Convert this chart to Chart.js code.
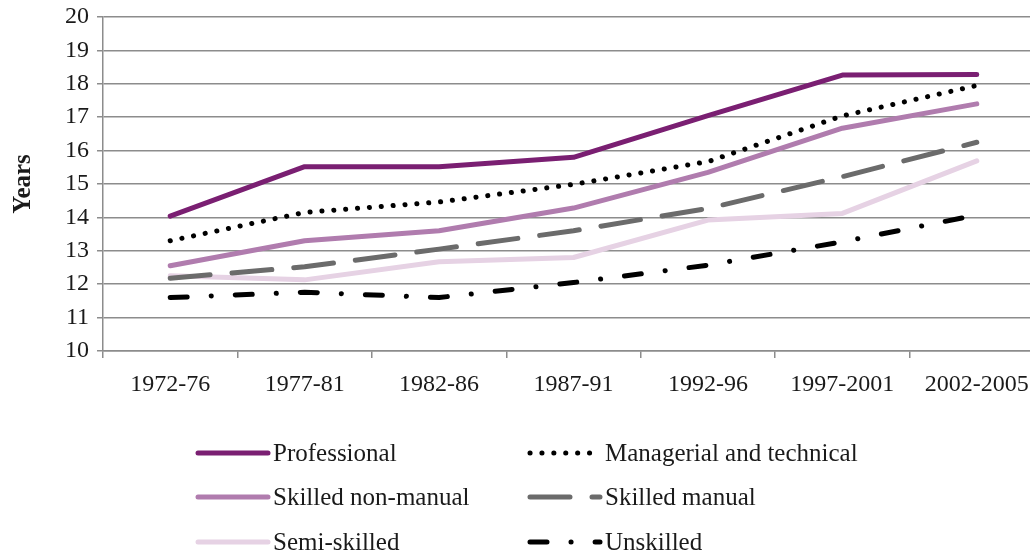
<!DOCTYPE html>
<html>
<head>
<meta charset="utf-8">
<script src="https://cdn.jsdelivr.net/npm/chart.js@4"></script>
<style>
  html, body { margin: 0; padding: 0; background: #fff; overflow: hidden; }
  #wrap { width: 1044px; height: 555px; }
</style>
</head>
<body>
<div id="wrap"><canvas id="lineChart"></canvas></div>
<script>
// data
const periods = ['1972-76', '1977-81', '1982-86', '1987-91', '1992-96', '1997-2001', '2002-2005'];
const seriesNames = ['Professional', 'Managerial and technical', 'Skilled non-manual', 'Skilled manual', 'Semi-skilled', 'Unskilled'];
const professional = [14.04, 15.52, 15.52, 15.8, 17.05, 18.26, 18.28];
const managerial   = [13.3, 14.15, 14.46, 14.99, 15.67, 17.04, 17.95];
const skilledNonManual = [12.55, 13.3, 13.6, 14.28, 15.35, 16.67, 17.4];
const skilledManual = [12.18, 12.52, 13.05, 13.6, 14.27, 15.22, 16.25];
const semiSkilled  = [12.25, 12.13, 12.67, 12.8, 13.92, 14.12, 15.69];
const unskilled    = [11.6, 11.76, 11.6, 12.05, 12.57, 13.27, 14.07];
const yTicks = [10, 11, 12, 13, 14, 15, 16, 17, 18, 19, 20];

const FONT = '"Liberation Serif", "Times New Roman", serif';

// line styles
const styles = [
  { color: '#7a1f72', dash: [], cap: 'round' },
  { color: '#000000', dash: [0.1, 11.8], cap: 'round' },
  { color: '#b07cae', dash: [], cap: 'round' },
  { color: '#6b6b6b', dash: [40, 22], cap: 'round' },
  { color: '#e6d2e4', dash: [], cap: 'round' },
  { color: '#000000', dash: [17, 24, 0.1, 24], cap: 'round' }
];
const values = [professional, managerial, skilledNonManual, skilledManual, semiSkilled, unskilled];

const datasets = values.map((v, i) => ({
  label: seriesNames[i],
  data: v,
  borderColor: styles[i].color,
  backgroundColor: styles[i].color,
  borderWidth: 5,
  borderDash: styles[i].dash,
  borderCapStyle: styles[i].cap,
  borderJoinStyle: 'round',
  pointRadius: 0,
  tension: 0,
  fill: false
}));

// legend in two columns under the chart
const gridLegend = {
  id: 'gridLegend',
  afterDraw(chart) {
    const ctx = chart.ctx;
    const colX = [198, 530];
    const rowY = [453, 497, 542];
    ctx.save();
    chart.data.datasets.forEach((ds, i) => {
      const x = colX[i % 2];
      const y = rowY[Math.floor(i / 2)];
      ctx.beginPath();
      ctx.strokeStyle = ds.borderColor;
      ctx.lineWidth = ds.borderWidth;
      ctx.lineCap = ds.borderCapStyle;
      ctx.setLineDash(ds.borderDash);
      ctx.moveTo(x, y);
      ctx.lineTo(x + 70, y);
      ctx.stroke();
      ctx.setLineDash([]);
      ctx.fillStyle = '#1a1a1a';
      ctx.font = '25px ' + FONT;
      ctx.textBaseline = 'middle';
      ctx.textAlign = 'left';
      ctx.fillText(ds.label, x + 75, y + 1);
    });
    ctx.restore();
  }
};

new Chart(document.getElementById('lineChart'), {
  type: 'line',
  data: { labels: periods, datasets: datasets },
  options: {
    responsive: true,
    maintainAspectRatio: false,
    animation: false,
    layout: { padding: { top: 17, right: 0, left: 0, bottom: 154 } },
    plugins: {
      legend: { display: false },
      tooltip: { enabled: false }
    },
    scales: {
      x: {
        offset: true,
        afterFit: s => { s.height = 50; },
        grid: {
          offset: true,
          drawOnChartArea: false,
          drawTicks: true,
          tickLength: 7,
          color: '#8c8c8c',
          lineWidth: 1.5
        },
        border: { color: '#8c8c8c', width: 1.5 },
        ticks: {
          color: '#1a1a1a',
          font: { family: FONT, size: 24 },
          padding: 12,
          maxRotation: 0,
          autoSkip: false
        }
      },
      y: {
        min: 10,
        max: 20,
        afterFit: s => { s.width = 103; s.paddingTop = 0; s.paddingBottom = 0; },
        afterBuildTicks: s => { s.ticks = yTicks.map(v => ({ value: v })); },
        grid: {
          color: '#8c8c8c',
          lineWidth: 1.5,
          tickLength: 6
        },
        border: { color: '#8c8c8c', width: 1.5 },
        ticks: {
          color: '#1a1a1a',
          font: { family: FONT, size: 24, lineHeight: 1 },
          padding: 8
        },
        title: {
          display: true,
          text: 'Years',
          color: '#1a1a1a',
          font: { family: FONT, size: 25, weight: 'bold' },
          padding: { top: 9, bottom: 0 }
        }
      }
    }
  },
  plugins: [gridLegend]
});
</script>
</body>
</html>
